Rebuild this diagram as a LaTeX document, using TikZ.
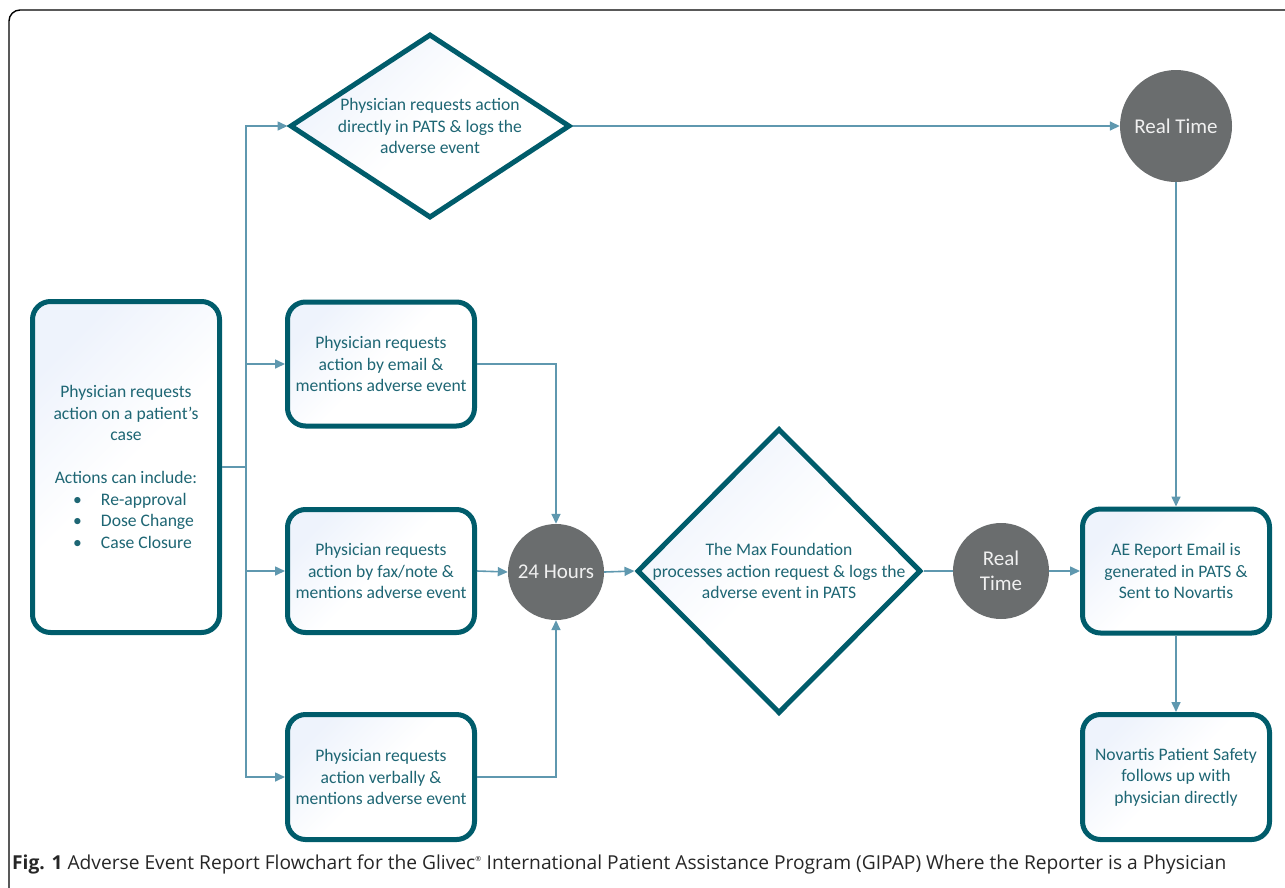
\documentclass[tikz,border=0pt]{standalone}
\usepackage{fontspec}
\setmainfont{Carlito}
\newfontfamily\capfont{Open Sans}
\usetikzlibrary{shapes.geometric,arrows.meta,positioning}
\definecolor{tealline}{RGB}{0,92,107}
\definecolor{tealtext}{RGB}{30,102,116}
\definecolor{linkblue}{RGB}{95,152,175}
\definecolor{dotgray}{RGB}{106,109,110}
\definecolor{boxblue}{RGB}{238,243,252}
\tikzset{
  box/.style={draw=tealline, line width=5pt, rounded corners=18pt, top color=boxblue, bottom color=white, middle color=white, shading angle=45,
    text=tealtext, align=center, font=\fontsize{17.6}{21.5}\selectfont, minimum width=187pt, inner sep=0pt},
  dia/.style={diamond, draw=tealline, line width=5pt, top color=boxblue, bottom color=white, middle color=white, shading angle=45,
    text=tealtext, align=center, font=\fontsize{17.6}{21.5}\selectfont, inner sep=-12pt},
  timer/.style={circle, fill=dotgray, text=white!94!black, align=center, font=\fontsize{21}{25}\selectfont, inner sep=0pt},
  link/.style={draw=linkblue, line width=1.6pt, -{Triangle[length=10pt,width=9pt]}},
}
\begin{document}
\begin{tikzpicture}[x=1pt,y=-1pt]
\useasboundingbox (0,0) rectangle (1285,887);
% frame
\draw[line width=1.4pt, rounded corners=11pt] (9,890) -- (9,10) -- (1290,10);

% first column
\node[box, minimum width=187pt, minimum height=331pt] (req) at (126,467) {Physician requests\\ action on a patient’s\\ case\\[21.5pt]
  Actions can include:\\
  \makebox[106pt][l]{\makebox[28pt][l]{\textbullet}Re-approval}\\
  \makebox[106pt][l]{\makebox[28pt][l]{\textbullet}Dose Change}\\
  \makebox[106pt][l]{\makebox[28pt][l]{\textbullet}Case Closure}};
\coordinate (split) at (246,467);

% ways of asking
\node[dia, aspect=1.5, minimum width=280pt, minimum height=184pt] (pats) at (430,126) {Physician requests action\\ directly in PATS \& logs the\\ adverse event};
\node[box, minimum height=124pt] (email) at (381,364) {Physician requests\\ action by email \&\\ mentions adverse event};
\node[box, minimum height=123pt] (fax) at (381,571) {Physician requests\\ action by fax/note \&\\ mentions adverse event};
\node[box, minimum height=125pt] (verbal) at (381,777) {Physician requests\\ action verbally \&\\ mentions adverse event};

% middle
\node[timer, minimum size=96pt] (hours) at (556,572) {24 Hours};
\node[dia, aspect=1, minimum width=284pt, minimum height=285pt] (maxf) at (779,571) {The Max Foundation\\ processes action request \& logs the\\ adverse event in PATS};
\node[timer, minimum size=96pt] (rt) at (1001,571) {Real\\ Time};
\node[timer, minimum size=112pt] (rttop) at (1176,126) {Real Time};

% right column
\node[box, minimum height=124pt] (ae) at (1176,571) {AE Report Email is\\ generated in PATS \&\\ Sent to Novartis};
\node[box, minimum height=125pt] (nps) at (1176,777) {Novartis Patient Safety\\ follows up with\\ physician directly};

% connectors
\draw[draw=linkblue, line width=1.6pt] (req.east) -- (split);
\draw[link] (split) |- (pats.west);
\draw[link] (split) |- (email.west);
\draw[link] (split) |- (fax.west);
\draw[link] (split) |- (verbal.west);
\draw[link] (email.east) -| (hours.north);
\draw[link] (fax.east) -- (hours.west);
\draw[link] (verbal.east) -| (hours.south);
\draw[link] (hours.east) -- (maxf.west);
\draw[draw=linkblue, line width=1.6pt] (maxf.east) -- (rt.west);
\draw[link] (rt.east) -- (ae.west);
\draw[link] (pats.east) -- (rttop.west);
\draw[link] (rttop.south) -- (ae.north);
\draw[link] (ae.south) -- (nps.north);

% caption
\node[anchor=base west, inner sep=0pt, font=\capfont\fontsize{19.2}{22}\selectfont, text=black!85] (cap) at (12,869)
  {\textbf{Fig. 1} Adverse Event Report Flowchart for the Glivec\textsuperscript{\scriptsize®} International Patient Assistance Program (GIPAP) Where the Reporter is a Physician};
\end{tikzpicture}
\end{document}
